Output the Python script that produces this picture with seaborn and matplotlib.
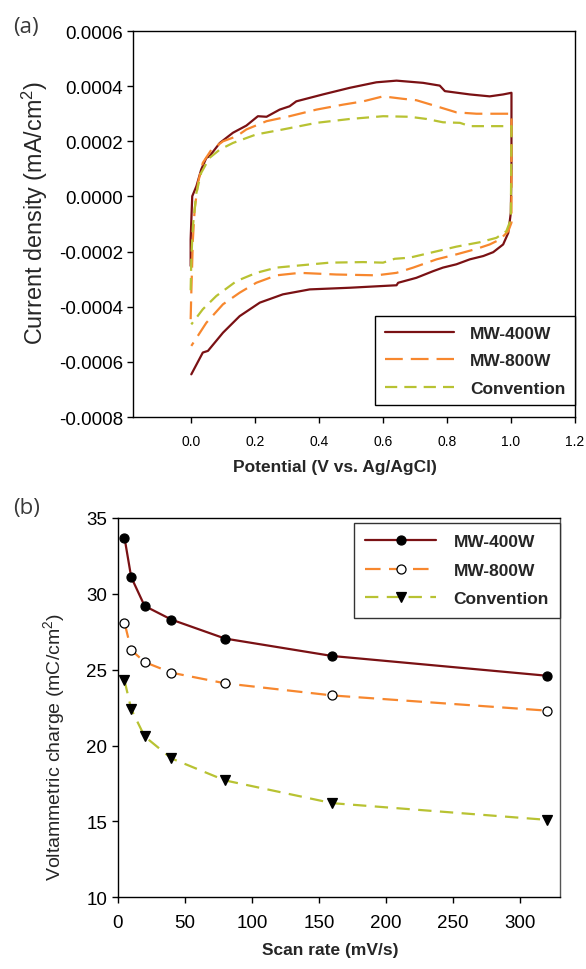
import numpy as np
import pandas as pd
import matplotlib
matplotlib.use("Agg")
import matplotlib.pyplot as plt
import seaborn as sns
from matplotlib.ticker import FuncFormatter

# ---------------- data: panel (a) cyclic voltammograms ----------------
series_names = ["MW-400W", "MW-800W", "Convention"]

mw400_V = [0.000, 0.000, 0.003, 0.005, 0.018, 0.033, 0.049, 0.059, 0.091, 0.132, 0.174, 0.210,
           0.237, 0.278, 0.309, 0.330, 0.413, 0.497, 0.580, 0.643, 0.726, 0.778, 0.794, 0.872,
           0.934, 0.976, 1.002, 1.002, 1.000, 0.992, 0.976, 0.945, 0.914, 0.872, 0.830, 0.788,
           0.757, 0.705, 0.648, 0.643, 0.497, 0.372, 0.288, 0.216, 0.153, 0.101, 0.054, 0.038,
           0.002]
mw400_I = [-0.000252, -0.000156, -0.000059, 0.000001, 0.0000373, 0.0000978, 0.000140, 0.000146,
           0.000194, 0.000231, 0.000257, 0.000291, 0.000289, 0.000315, 0.000327, 0.000345,
           0.000370, 0.000394, 0.000414, 0.000420, 0.000412, 0.000402, 0.000382, 0.000370,
           0.000363, 0.000370, 0.000376, 0.000100, -0.000059, -0.000132, -0.000174, -0.000202,
           -0.000216, -0.000228, -0.000246, -0.000258, -0.000271, -0.000295, -0.000313,
           -0.000322, -0.000331, -0.000337, -0.000355, -0.000385, -0.000434, -0.000494,
           -0.000560, -0.000566, -0.000645]

mw800_V = [0.000, 0.002, 0.007, 0.0125, 0.023, 0.038, 0.065, 0.101, 0.143, 0.174, 0.237, 0.309,
           0.393, 0.476, 0.539, 0.601, 0.664, 0.705, 0.768, 0.830, 0.893, 1.002, 1.002, 0.992,
           0.966, 0.934, 0.893, 0.830, 0.768, 0.695, 0.643, 0.580, 0.455, 0.341, 0.268, 0.205,
           0.153, 0.101, 0.049, 0.002]
mw800_I = [-0.000445, -0.000350, -0.000156, -0.000047, 0.000050, 0.000122, 0.000170, 0.000200,
           0.000218, 0.000243, 0.000273, 0.000291, 0.000315, 0.000333, 0.000345, 0.000363,
           0.000354, 0.000349, 0.000327, 0.000305, 0.000300, 0.000300, -0.000095, -0.000126,
           -0.000156, -0.000174, -0.000190, -0.000210, -0.000228, -0.000258, -0.000277,
           -0.000286, -0.000283, -0.000277, -0.000286, -0.000313, -0.000349, -0.000391,
           -0.000458, -0.000542]

conv_V = [0.000, 0.002, 0.007, 0.018, 0.033, 0.059, 0.091, 0.132, 0.205, 0.288, 0.393, 0.497,
          0.601, 0.684, 0.737, 0.788, 0.841, 0.872, 1.002, 1.000, 0.986, 0.955, 0.903, 0.830,
          0.757, 0.684, 0.6375, 0.601, 0.539, 0.434, 0.341, 0.268, 0.205, 0.143, 0.080, 0.038,
          0.002]
conv_I = [-0.000340, -0.000228, -0.000108, 0.0000134, 0.0000859, 0.000140, 0.000170, 0.000194,
          0.000225, 0.000243, 0.000267, 0.000281, 0.000291, 0.000289, 0.000281, 0.000269,
          0.000267, 0.000255, 0.000255, -0.0000833, -0.000126, -0.000150, -0.000166,
          -0.000182, -0.000202, -0.000222, -0.000226, -0.000240, -0.000238, -0.000240,
          -0.000250, -0.000258, -0.000277, -0.000307, -0.000361, -0.000409, -0.000464]

# ---------------- data: panel (b) voltammetric charge ----------------
scan_rate = [5, 10, 20, 40, 80, 160, 320]
q_mw400 = [33.7, 31.1, 29.2, 28.3, 27.05, 25.9, 24.6]
q_mw800 = [28.1, 26.3, 25.5, 24.8, 24.1, 23.3, 22.3]
q_conv = [24.3, 22.4, 20.6, 19.15, 17.7, 16.2, 15.1]

x_ticks_a = [0.0, 0.2, 0.4, 0.6, 0.8, 1.0, 1.2]
y_ticks_a = [-0.0008, -0.0006, -0.0004, -0.0002, 0.0, 0.0002, 0.0004, 0.0006]
x_ticks_b = [0, 50, 100, 150, 200, 250, 300]
y_ticks_b = [10, 15, 20, 25, 30, 35]

# ---------------- styling ----------------
sns.set_theme(style="ticks")
plt.rcParams["font.family"] = ["Liberation Sans", "DejaVu Sans"]
plt.rcParams["mathtext.default"] = "regular"
plt.rcParams["axes.edgecolor"] = "black"
plt.rcParams["axes.linewidth"] = 1.0
plt.rcParams["xtick.color"] = "black"
plt.rcParams["ytick.color"] = "black"

c_red = "#7a1114"
c_orange = "#f7872e"
c_green = "#b8c232"
colors = [c_red, c_orange, c_green]

fig = plt.figure(figsize=(5.86, 9.70), dpi=100)
ax1 = fig.add_axes([0.227, 0.569, 0.754, 0.398])
ax2 = fig.add_axes([0.201, 0.074, 0.755, 0.391])

# ---- panel (a)
cv = pd.concat([
    pd.DataFrame({"V": mw400_V, "I": mw400_I, "s": series_names[0], "o": range(len(mw400_V))}),
    pd.DataFrame({"V": mw800_V, "I": mw800_I, "s": series_names[1], "o": range(len(mw800_V))}),
    pd.DataFrame({"V": conv_V, "I": conv_I, "s": series_names[2], "o": range(len(conv_V))}),
])
dash_a = ["", (8, 3.6), (5.5, 3.2)]
for name, col, d in zip(series_names, colors, dash_a):
    sub = cv[cv["s"] == name]
    sns.lineplot(data=sub, x="V", y="I", sort=False, estimator=None, ax=ax1,
                 color=col, lw=1.6, label=name)
    if d:
        ax1.lines[-1].set_dashes(d)

ax1.set_xlim(-0.18, 1.2)
ax1.set_ylim(-0.0008, 0.0006)
ax1.set_xticks(x_ticks_a)
ax1.set_yticks(y_ticks_a)
ax1.yaxis.set_major_formatter(FuncFormatter(lambda v, p: f"{abs(v):.4f}" if abs(v) < 1e-12 else f"{v:.4f}"))
ax1.xaxis.set_major_formatter(FuncFormatter(lambda v, p: f"{v:.1f}"))
ax1.tick_params(axis="y", labelsize=13.5, length=4, width=1, direction="out", pad=3)
ax1.tick_params(axis="x", labelsize=10, length=4, width=1, direction="out", pad=8)
for s in ax1.spines.values():
    s.set_visible(True)
    s.set_color("black")
ax1.set_ylabel("Current density (mA/cm$^2$)", fontsize=16.8)
ax1.yaxis.set_label_coords(-0.188, 0.531)
ax1.set_xlabel("Potential (V vs. Ag/AgCl)", fontsize=12.5, fontweight="bold")
ax1.xaxis.set_label_coords(0.457, -0.108)
leg1 = ax1.legend(loc="lower right", bbox_to_anchor=(1.0, 0.03), frameon=True, fancybox=False,
                  edgecolor="black", framealpha=1, fontsize=12.5, handlelength=4.0,
                  handletextpad=0.9, borderpad=0.55, labelspacing=0.72, borderaxespad=0.0)
leg1.get_frame().set_linewidth(1.0)
for t in leg1.get_texts():
    t.set_fontweight("bold")

# ---- panel (b)
qc = pd.DataFrame({"rate": scan_rate * 3,
                   "q": q_mw400 + q_mw800 + q_conv,
                   "s": [series_names[0]] * 7 + [series_names[1]] * 7 + [series_names[2]] * 7})
markers = ["o", "o", "v"]
faces = ["black", "white", "black"]
dash_b = ["", (7, 3.8), (6, 3.8)]
for name, col, m, fc, d in zip(series_names, colors, markers, faces, dash_b):
    sub = qc[qc["s"] == name]
    sns.lineplot(data=sub, x="rate", y="q", ax=ax2, color=col, lw=1.6, label=name,
                 marker=m, markersize=6.5 if m == "o" else 7, markerfacecolor=fc,
                 markeredgecolor="black", markeredgewidth=0.9)
    if d:
        ax2.lines[-1].set_dashes(d)

ax2.set_xlim(0, 330)
ax2.set_ylim(10, 35)
ax2.set_xticks(x_ticks_b)
ax2.set_yticks(y_ticks_b)
ax2.tick_params(axis="both", labelsize=13.5, length=4, width=1, direction="out")
ax2.tick_params(axis="x", pad=8)
for s in ax2.spines.values():
    s.set_visible(True)
    s.set_color("black")
ax2.spines["right"].set_color("#555555")
ax2.set_ylabel("Voltammetric charge (mC/cm$^2$)", fontsize=14)
ax2.yaxis.set_label_coords(-0.115, 0.398)
ax2.set_xlabel("Scan rate (mV/s)", fontsize=12.5, fontweight="bold")
ax2.xaxis.set_label_coords(0.48, -0.118)
leg2 = ax2.legend(loc="upper right", bbox_to_anchor=(1.0, 0.988), frameon=True, fancybox=False,
                  edgecolor="#333333", framealpha=1, fontsize=12.5, handlelength=4.1,
                  handletextpad=1.0, borderpad=0.65, labelspacing=0.78, borderaxespad=0.0)
leg2.get_frame().set_linewidth(1.0)
for t in leg2.get_texts():
    t.set_fontweight("bold")

fig.text(0.022, 0.972, "(a)", fontsize=16, color="#3a3a3a", family=["Open Sans", "DejaVu Sans"],
         va="center", ha="left")
fig.text(0.022, 0.476, "(b)", fontsize=16, color="#3a3a3a", family=["Open Sans", "DejaVu Sans"],
         va="center", ha="left")

fig.savefig("out.png", dpi=100)
